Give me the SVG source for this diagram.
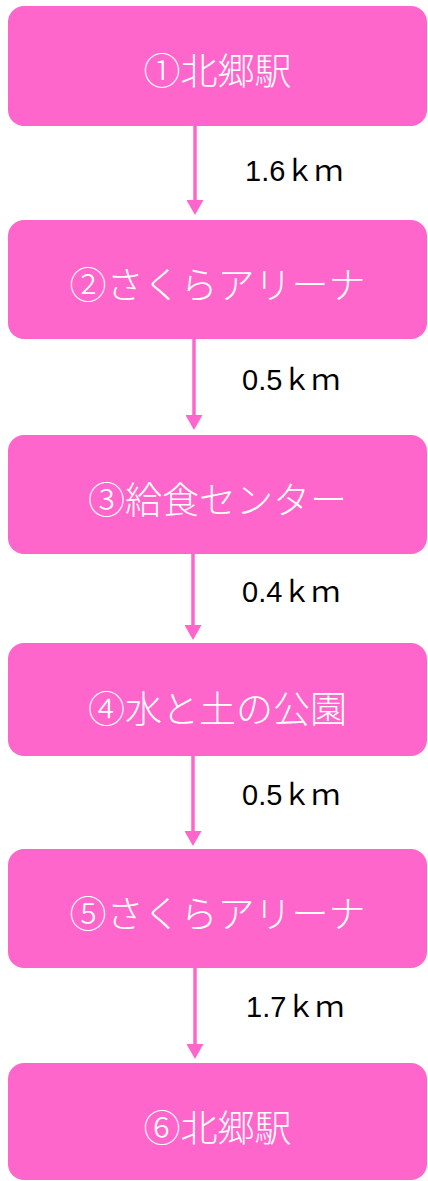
<svg xmlns="http://www.w3.org/2000/svg" width="428" height="1181" viewBox="0 0 428 1181">
  <style>
    .box { fill: #FF66CC; }
    .lbl { fill: #FFFFFF; font-family: "Noto Sans CJK JP", sans-serif; font-size: 37px; font-weight: 300; text-anchor: middle; }
    .dist { fill: #000000; font-family: "Liberation Sans", "Noto Sans CJK JP", sans-serif; font-size: 29px; }
    .conn { stroke: #FF66CC; stroke-width: 3.5; fill: none; marker-end: url(#ah); }
  </style>
  <defs>
    <marker id="ah" viewBox="0 0 15 17" refX="7" refY="8.5" markerWidth="15" markerHeight="17" markerUnits="userSpaceOnUse" orient="auto">
      <path d="M0,0 L15,8.5 L0,17 Z" fill="#FF66CC"/>
    </marker>
  </defs>
  <rect width="428" height="1181" fill="#FFFFFF"/>
  <g id="connectors">
    <line class="conn" x1="195" y1="126" x2="195" y2="207"/>
    <line class="conn" x1="194" y1="339" x2="194" y2="422"/>
    <line class="conn" x1="193" y1="554" x2="193" y2="632"/>
    <line class="conn" x1="193" y1="756" x2="193" y2="838"/>
    <line class="conn" x1="195" y1="968" x2="195" y2="1051"/>
    <text class="dist" x="245" y="181">1.6ｋｍ</text>
    <text class="dist" x="242" y="390">0.5ｋｍ</text>
    <text class="dist" x="242" y="602">0.4ｋｍ</text>
    <text class="dist" x="242" y="805">0.5ｋｍ</text>
    <text class="dist" x="246" y="1017">1.7ｋｍ</text>
  </g>
  <g id="node1">
    <rect class="box" x="8" y="6" width="419" height="120" rx="16"/>
    <text class="lbl" x="217.5" y="85">①北郷駅</text>
  </g>
  <g id="node2">
    <rect class="box" x="8" y="220" width="419" height="119" rx="16"/>
    <text class="lbl" x="217.5" y="299">②さくらアリーナ</text>
  </g>
  <g id="node3">
    <rect class="box" x="8" y="435" width="419" height="119" rx="16"/>
    <text class="lbl" x="217.5" y="514">③給食センター</text>
  </g>
  <g id="node4">
    <rect class="box" x="8" y="643" width="419" height="113" rx="16"/>
    <text class="lbl" x="217.5" y="723">④水と土の公園</text>
  </g>
  <g id="node5">
    <rect class="box" x="8" y="849" width="419" height="119" rx="16"/>
    <text class="lbl" x="217.5" y="928">⑤さくらアリーナ</text>
  </g>
  <g id="node6">
    <rect class="box" x="8" y="1063" width="419" height="117" rx="16"/>
    <text class="lbl" x="217.5" y="1142">⑥北郷駅</text>
  </g>
</svg>
